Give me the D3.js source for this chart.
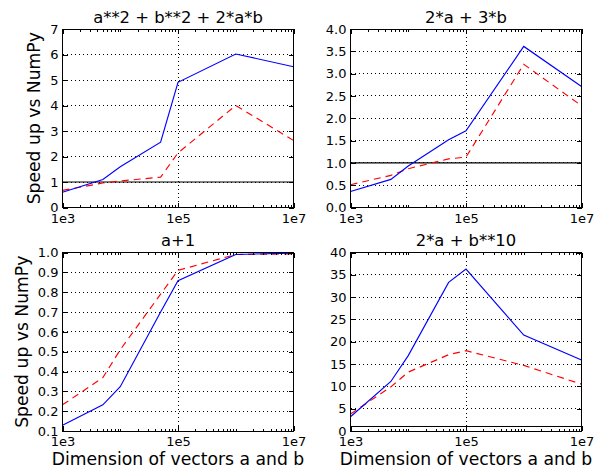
<!DOCTYPE html>
<html>
<head>
<meta charset="utf-8">
<script src="https://cdn.jsdelivr.net/npm/d3@7"></script>
<style>
	body { margin: 0; background: #fff; }
	svg text { font-family: "DejaVu Sans", sans-serif; fill: #000; }
</style>
</head>
<body>
<div id="chart"></div>
<script>
// vector sizes on the x axis
const sizes = [1e3, 5e3, 1e4, 5e4, 1e5, 1e6, 1e7];

const titles = ["a**2 + b**2 + 2*a*b", "2*a + 3*b", "a+1", "2*a + b**10"];

// solid blue series
const blueSquare = [0.6, 1.1, 1.6, 2.56, 4.91, 6.02, 5.52];
const blueLinear = [0.36, 0.63, 0.93, 1.52, 1.72, 3.61, 2.71];
const bluePlusOne = [0.129, 0.232, 0.323, 0.70, 0.858, 0.99, 0.997];
const bluePower = [3.2, 11.1, 16.9, 33.3, 36.3, 21.5, 15.9];

// dashed red series
const redSquare = [0.67, 0.96, 1.04, 1.19, 2.14, 4.0, 2.63];
const redLinear = [0.51, 0.72, 0.87, 1.09, 1.13, 3.21, 2.28];
const redPlusOne = [0.232, 0.369, 0.51, 0.79, 0.91, 0.99, 0.993];
const redPower = [3.8, 9.9, 13.2, 17.1, 18.0, 14.7, 10.5];

// y ticks per panel
const yTicksSquare = [0, 1, 2, 3, 4, 5, 6, 7];
const yTicksLinear = [0, 0.5, 1, 1.5, 2, 2.5, 3, 3.5, 4];
const yTicksPlusOne = [0.1, 0.2, 0.3, 0.4, 0.5, 0.6, 0.7, 0.8, 0.9, 1.0];
const yTicksPower = [0, 5, 10, 15, 20, 25, 30, 35, 40];

const xMajor = [1e3, 1e5, 1e7];
const xLabels = ["1e3", "1e5", "1e7"];

const panels = [
	{ title: titles[0], blue: blueSquare, red: redSquare, yTicks: yTicksSquare, fmt: d3.format("d"), col: 0, row: 0 },
	{ title: titles[1], blue: blueLinear, red: redLinear, yTicks: yTicksLinear, fmt: d3.format(".1f"), col: 1, row: 0 },
	{ title: titles[2], blue: bluePlusOne, red: redPlusOne, yTicks: yTicksPlusOne, fmt: d3.format(".1f"), col: 0, row: 1 },
	{ title: titles[3], blue: bluePower, red: redPower, yTicks: yTicksPower, fmt: d3.format("d"), col: 1, row: 1 }
];

const W = 603, H = 471;
const lefts = [62.5, 350.5], tops = [29, 252.5];
const width = 231, height = 178.5;

const svg = d3
	.select("#chart")
	.append("svg")
	.attr("width", W)
	.attr("height", H);

// minor ticks: 2..9 of every decade, plus 1e4 and 1e6
const xMinor = [];
for (let e = 3; e < 7; e++) {
	for (let m = 1; m < 10; m++) {
		const v = m * Math.pow(10, e);
		if (!xMajor.includes(v)) xMinor.push(v);
	}
}

panels.forEach(p => {
	const g = svg
		.append("g")
		.attr("transform", `translate(${lefts[p.col]},${tops[p.row]})`);

	const x = d3.scaleLog().domain([1e3, 1e7]).range([0, width]);
	const y = d3
		.scaleLinear()
		.domain([p.yTicks[0], p.yTicks[p.yTicks.length - 1]])
		.range([height, 0]);

	// dotted grid
	g.selectAll(".hgrid")
		.data(p.yTicks)
		.enter()
		.append("line")
		.attr("x1", 0)
		.attr("x2", width)
		.attr("y1", d => y(d))
		.attr("y2", d => y(d))
		.attr("stroke", "#000")
		.attr("stroke-width", 1)
		.attr("stroke-dasharray", "1,3")
		.attr("shape-rendering", "crispEdges");
	g.selectAll(".vgrid")
		.data(xMajor)
		.enter()
		.append("line")
		.attr("x1", d => x(d))
		.attr("x2", d => x(d))
		.attr("y1", 0)
		.attr("y2", height)
		.attr("stroke", "#000")
		.attr("stroke-width", 1)
		.attr("stroke-dasharray", "1,3")
		.attr("shape-rendering", "crispEdges");

	// reference line at speed up = 1
	g.append("line")
		.attr("x1", 0)
		.attr("x2", width)
		.attr("y1", y(1))
		.attr("y2", y(1))
		.attr("stroke", "#000")
		.attr("stroke-width", 1.1);

	const line = d3
		.line()
		.x((d, i) => x(sizes[i]))
		.y(d => y(d));

	g.append("path")
		.datum(p.red)
		.attr("d", line)
		.attr("fill", "none")
		.attr("stroke", "#ff0000")
		.attr("stroke-width", 1.15)
		.attr("stroke-dasharray", "7,5");

	g.append("path")
		.datum(p.blue)
		.attr("d", line)
		.attr("fill", "none")
		.attr("stroke", "#0000ff")
		.attr("stroke-width", 1.15);

	// axes with inward ticks on all four sides
	const styleAxis = sel => {
		sel.select(".domain").remove();
		sel.selectAll("line")
			.attr("stroke", "#000")
			.attr("stroke-width", 1)
			.attr("shape-rendering", "crispEdges");
		sel.selectAll("text").style("font-size", "13px").attr("fill", "#000");
	};

	g.append("g")
		.attr("transform", `translate(0,${height})`)
		.call(
			d3.axisBottom(x)
				.tickValues(xMajor)
				.tickFormat((d, i) => xLabels[i])
				.tickSizeInner(-5)
				.tickPadding(6)
		)
		.call(styleAxis);
	g.append("g")
		.attr("transform", `translate(0,${height})`)
		.call(d3.axisBottom(x).tickValues(xMinor).tickFormat("").tickSizeInner(-2.5))
		.call(styleAxis);
	g.append("g")
		.call(d3.axisTop(x).tickValues(xMajor).tickFormat("").tickSizeInner(-5))
		.call(styleAxis);
	g.append("g")
		.call(d3.axisTop(x).tickValues(xMinor).tickFormat("").tickSizeInner(-2.5))
		.call(styleAxis);

	g.append("g")
		.call(
			d3.axisLeft(y)
				.tickValues(p.yTicks)
				.tickFormat(p.fmt)
				.tickSizeInner(-5)
				.tickPadding(4)
		)
		.call(styleAxis);
	g.append("g")
		.attr("transform", `translate(${width},0)`)
		.call(d3.axisRight(y).tickValues(p.yTicks).tickFormat("").tickSizeInner(-5))
		.call(styleAxis);

	// frame
	g.append("rect")
		.attr("width", width)
		.attr("height", height)
		.attr("fill", "none")
		.attr("stroke", "#000")
		.attr("stroke-width", 1)
		.attr("shape-rendering", "crispEdges");

	g.append("text")
		.attr("x", width / 2)
		.attr("y", -6.5)
		.style("text-anchor", "middle")
		.style("font-size", "16.4px")
		.text(p.title);

	if (p.col === 0) {
		g.append("text")
			.attr("transform", "rotate(-90)")
			.attr("x", -height / 2)
			.attr("y", p.row === 0 ? -23 : -34.5)
			.style("text-anchor", "middle")
			.style("font-size", "17.2px")
			.text("Speed up vs NumPy");
	}
	if (p.row === 1) {
		g.append("text")
			.attr("x", width / 2)
			.attr("y", height + 34)
			.style("text-anchor", "middle")
			.style("font-size", "17.2px")
			.text("Dimension of vectors a and b");
	}
});
</script>
</body>
</html>
